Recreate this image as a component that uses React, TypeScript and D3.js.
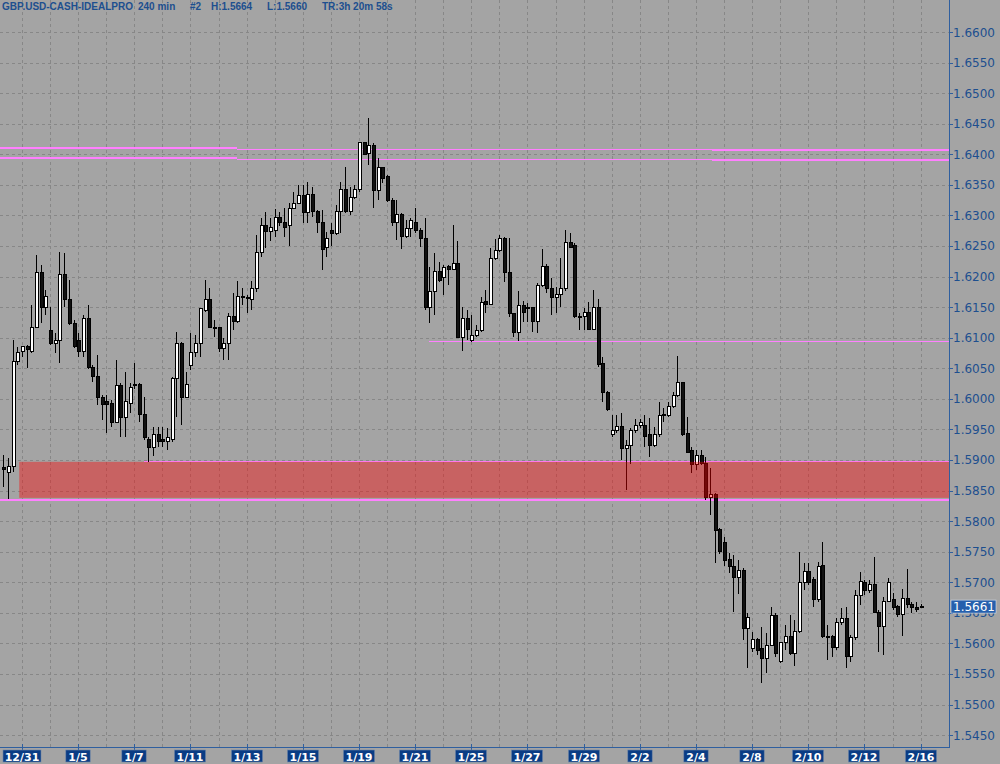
import * as d3 from 'd3';

// GBP.USD 240 min candles (oldest first)
const opens = [
  1.5887, 1.5879, 1.5889, 1.6061, 1.6077, 1.6085, 1.6078, 1.6117, 1.6207, 1.6149,
  1.6111, 1.6091, 1.6096, 1.6204, 1.6163, 1.6124, 1.6096, 1.6078, 1.6132, 1.6051,
  1.6037, 1.6003, 1.5995, 1.5993, 1.5962, 1.6021, 1.5969, 1.5993, 1.6021, 1.6024,
  1.5975, 1.5934, 1.5921, 1.5942, 1.5934, 1.5931, 1.5934, 1.6033, 1.6091, 1.6003,
  1.6054, 1.6075, 1.6090, 1.6145, 1.6162, 1.6117, 1.6116, 1.6083, 1.6091, 1.6135,
  1.6126, 1.6168, 1.6165, 1.6163, 1.6180, 1.6240, 1.6283, 1.6274, 1.6276, 1.6296,
  1.6288, 1.6283, 1.6312, 1.6320, 1.6333, 1.6304, 1.6335, 1.6306, 1.6289, 1.6247,
  1.6276, 1.6271, 1.6306, 1.6342, 1.6306, 1.6330, 1.6342, 1.6420, 1.6402, 1.6415,
  1.6340, 1.6378, 1.6363, 1.6325, 1.6289, 1.6301, 1.6266, 1.6278, 1.6288, 1.6276,
  1.6263, 1.6149, 1.6175, 1.6209, 1.6199, 1.6216, 1.6212, 1.6222, 1.6101, 1.6132,
  1.6095, 1.6104, 1.6111, 1.6160, 1.6155, 1.6230, 1.6243, 1.6263, 1.6206, 1.6139,
  1.6108, 1.6152, 1.6149, 1.6149, 1.6126, 1.6186, 1.6217, 1.6181, 1.6166, 1.6171,
  1.6180, 1.6256, 1.6250, 1.6135, 1.6134, 1.6142, 1.6114, 1.6149, 1.6057, 1.6011,
  1.5941, 1.5948, 1.5954, 1.5918, 1.5924, 1.5948, 1.5956, 1.5956, 1.5941, 1.5924,
  1.5941, 1.5975, 1.5972, 1.5988, 1.6005, 1.6026, 1.5943, 1.5915, 1.5892, 1.5907,
  1.5895, 1.5838, 1.5844, 1.5786, 1.5765, 1.5737, 1.5725, 1.5707, 1.5720, 1.5625,
  1.5591, 1.5606, 1.5591, 1.5576, 1.5597, 1.5645, 1.5571, 1.5601, 1.5611, 1.5584,
  1.5620, 1.5700, 1.5717, 1.5704, 1.5671, 1.5727, 1.5612, 1.5611, 1.5593, 1.5634,
  1.5640, 1.5578, 1.5609, 1.5679, 1.5699, 1.5686, 1.5697, 1.5651, 1.5627, 1.5669,
  1.5671, 1.5661, 1.5648, 1.5673, 1.5664, 1.5659, 1.5661,
];
const highs = [
  1.5908, 1.5903, 1.6096, 1.6085, 1.6087, 1.6088, 1.6154, 1.6235, 1.6219, 1.6178,
  1.6150, 1.6108, 1.6240, 1.6238, 1.6194, 1.6129, 1.6108, 1.6137, 1.6154, 1.6056,
  1.6072, 1.6006, 1.6006, 1.5998, 1.6064, 1.6026, 1.6044, 1.6026, 1.6059, 1.6026,
  1.6003, 1.5938, 1.5954, 1.5954, 1.5954, 1.5952, 1.6036, 1.6109, 1.6093, 1.6044,
  1.6108, 1.6104, 1.6149, 1.6194, 1.6181, 1.6129, 1.6117, 1.6100, 1.6140, 1.6173,
  1.6193, 1.6181, 1.6170, 1.6193, 1.6268, 1.6296, 1.6306, 1.6296, 1.6311, 1.6306,
  1.6312, 1.6320, 1.6338, 1.6350, 1.6350, 1.6355, 1.6346, 1.6309, 1.6309, 1.6273,
  1.6288, 1.6317, 1.6355, 1.6379, 1.6346, 1.6350, 1.6420, 1.6420, 1.6459, 1.6418,
  1.6394, 1.6379, 1.6366, 1.6328, 1.6325, 1.6304, 1.6293, 1.6296, 1.6312, 1.6279,
  1.6296, 1.6216, 1.6238, 1.6224, 1.6219, 1.6219, 1.6284, 1.6258, 1.6150, 1.6145,
  1.6137, 1.6121, 1.6167, 1.6178, 1.6247, 1.6261, 1.6268, 1.6265, 1.6263, 1.6140,
  1.6176, 1.6160, 1.6157, 1.6150, 1.6189, 1.6245, 1.6220, 1.6198, 1.6183, 1.6230,
  1.6276, 1.6271, 1.6255, 1.6140, 1.6149, 1.6158, 1.6178, 1.6163, 1.6069, 1.6012,
  1.5974, 1.5974, 1.5977, 1.5933, 1.5952, 1.5967, 1.5967, 1.5974, 1.5969, 1.5954,
  1.5995, 1.5985, 1.5995, 1.6011, 1.6070, 1.6028, 1.5970, 1.5921, 1.5916, 1.5916,
  1.5905, 1.5887, 1.5846, 1.5789, 1.5774, 1.5748, 1.5745, 1.5737, 1.5723, 1.5650,
  1.5619, 1.5609, 1.5627, 1.5617, 1.5660, 1.5650, 1.5602, 1.5630, 1.5647, 1.5638,
  1.5749, 1.5732, 1.5732, 1.5709, 1.5733, 1.5766, 1.5630, 1.5614, 1.5642, 1.5658,
  1.5660, 1.5614, 1.5687, 1.5717, 1.5704, 1.5704, 1.5741, 1.5655, 1.5676, 1.5707,
  1.5682, 1.5663, 1.5689, 1.5722, 1.5668, 1.5668, 1.5664,
];
const lows = [
  1.5856, 1.5836, 1.5880, 1.6056, 1.6069, 1.6051, 1.6075, 1.6116, 1.6124, 1.6137,
  1.6088, 1.6075, 1.6059, 1.6150, 1.6121, 1.6083, 1.6069, 1.6069, 1.6049, 1.6028,
  1.5990, 1.5965, 1.5944, 1.5954, 1.5960, 1.5938, 1.5938, 1.5977, 1.6016, 1.5962,
  1.5933, 1.5897, 1.5906, 1.5921, 1.5921, 1.5916, 1.5929, 1.5970, 1.5957, 1.6001,
  1.6047, 1.6069, 1.6069, 1.6142, 1.6116, 1.6101, 1.6077, 1.6064, 1.6064, 1.6113,
  1.6124, 1.6154, 1.6140, 1.6145, 1.6175, 1.6232, 1.6247, 1.6258, 1.6265, 1.6283,
  1.6265, 1.6250, 1.6311, 1.6320, 1.6288, 1.6288, 1.6297, 1.6271, 1.6211, 1.6232,
  1.6250, 1.6268, 1.6271, 1.6304, 1.6301, 1.6327, 1.6338, 1.6399, 1.6383, 1.6312,
  1.6325, 1.6353, 1.6322, 1.6283, 1.6260, 1.6245, 1.6263, 1.6265, 1.6271, 1.6248,
  1.6145, 1.6124, 1.6137, 1.6191, 1.6170, 1.6186, 1.6212, 1.6100, 1.6078, 1.6096,
  1.6093, 1.6101, 1.6109, 1.6140, 1.6154, 1.6227, 1.6240, 1.6191, 1.6134, 1.6101,
  1.6095, 1.6126, 1.6126, 1.6109, 1.6108, 1.6183, 1.6173, 1.6137, 1.6140, 1.6150,
  1.6176, 1.6248, 1.6132, 1.6113, 1.6113, 1.6113, 1.6113, 1.6052, 1.5995, 1.5980,
  1.5938, 1.5944, 1.5900, 1.5851, 1.5893, 1.5944, 1.5952, 1.5921, 1.5905, 1.5921,
  1.5938, 1.5962, 1.5970, 1.5985, 1.6003, 1.5939, 1.5911, 1.5879, 1.5884, 1.5892,
  1.5835, 1.5810, 1.5731, 1.5746, 1.5727, 1.5715, 1.5651, 1.5681, 1.5606, 1.5560,
  1.5586, 1.5581, 1.5535, 1.5552, 1.5596, 1.5578, 1.5568, 1.5589, 1.5581, 1.5563,
  1.5617, 1.5687, 1.5695, 1.5659, 1.5668, 1.5609, 1.5573, 1.5578, 1.5589, 1.5630,
  1.5560, 1.5570, 1.5606, 1.5663, 1.5679, 1.5683, 1.5650, 1.5586, 1.5581, 1.5668,
  1.5655, 1.5643, 1.5612, 1.5658, 1.5650, 1.5651, 1.5660,
];
const closes = [
  1.5884, 1.5889, 1.6061, 1.6075, 1.6085, 1.6080, 1.6117, 1.6207, 1.6149, 1.6167,
  1.6091, 1.6096, 1.6204, 1.6162, 1.6124, 1.6085, 1.6078, 1.6132, 1.6051, 1.6037,
  1.6003, 1.5990, 1.5991, 1.5962, 1.6021, 1.5969, 1.5995, 1.6018, 1.6024, 1.5974,
  1.5936, 1.5921, 1.5942, 1.5931, 1.5931, 1.5936, 1.6034, 1.6091, 1.6003, 1.6023,
  1.6075, 1.6091, 1.6147, 1.6162, 1.6117, 1.6116, 1.6083, 1.6091, 1.6135, 1.6126,
  1.6168, 1.6165, 1.6164, 1.6180, 1.6240, 1.6283, 1.6274, 1.6281, 1.6296, 1.6288,
  1.6281, 1.6312, 1.6320, 1.6333, 1.6304, 1.6335, 1.6306, 1.6289, 1.6245, 1.6263,
  1.6271, 1.6306, 1.6342, 1.6306, 1.6330, 1.6342, 1.6420, 1.6400, 1.6415, 1.6340,
  1.6378, 1.6360, 1.6324, 1.6289, 1.6301, 1.6266, 1.6278, 1.6291, 1.6276, 1.6263,
  1.6149, 1.6175, 1.6209, 1.6194, 1.6214, 1.6212, 1.6222, 1.6101, 1.6132, 1.6113,
  1.6104, 1.6111, 1.6158, 1.6155, 1.6230, 1.6243, 1.6263, 1.6206, 1.6139, 1.6108,
  1.6152, 1.6142, 1.6148, 1.6126, 1.6186, 1.6217, 1.6181, 1.6166, 1.6171, 1.6180,
  1.6256, 1.6248, 1.6134, 1.6134, 1.6142, 1.6114, 1.6149, 1.6056, 1.6010, 1.5983,
  1.5948, 1.5954, 1.5918, 1.5924, 1.5948, 1.5956, 1.5961, 1.5938, 1.5924, 1.5941,
  1.5972, 1.5972, 1.5988, 1.6005, 1.6026, 1.5941, 1.5913, 1.5892, 1.5907, 1.5895,
  1.5838, 1.5844, 1.5784, 1.5751, 1.5735, 1.5725, 1.5707, 1.5720, 1.5625, 1.5642,
  1.5606, 1.5589, 1.5576, 1.5597, 1.5645, 1.5583, 1.5601, 1.5611, 1.5584, 1.5620,
  1.5700, 1.5717, 1.5700, 1.5671, 1.5725, 1.5611, 1.5611, 1.5594, 1.5634, 1.5640,
  1.5578, 1.5609, 1.5679, 1.5702, 1.5686, 1.5696, 1.5651, 1.5627, 1.5669, 1.5700,
  1.5659, 1.5648, 1.5673, 1.5664, 1.5658, 1.5656, 1.5661,
];

// date labels sit every 12 bars, starting at bar 4
const dateLabels = ['12/31', '1/5', '1/7', '1/11', '1/13', '1/15', '1/19', '1/21', '1/25', '1/27', '1/29', '2/2', '2/4', '2/8', '2/10', '2/12', '2/16'];
const firstLabelBar = 4;
const barsPerLabel = 12;

const priceTicks = d3.range(1.545, 1.66001, 0.005);

// drawn objects: horizontal levels (price, from bar, to bar, width)
const levels = [
  { price: 1.6410, from: -1, to: 50, w: 2 },
  { price: 1.6394, from: -1, to: 50, w: 2 },
  { price: 1.6409, from: 50, to: 151.5, w: 1 },
  { price: 1.6392, from: 50, to: 151.5, w: 1 },
  { price: 1.6407, from: 151.5, to: 203, w: 2 },
  { price: 1.6391, from: 151.5, to: 203, w: 2 },
  { price: 1.6094, from: 91, to: 203, w: 1 },
  { price: 1.5899, from: 30, to: 203, w: 1 },
  { price: 1.5835, from: -1, to: 203, w: 2 },
];
const zone = { top: 1.5897, bottom: 1.5838, from: 3.4, to: 203 };

const lastPrice = 1.5661;
const header = [
  { t: 'GBP.USD-CASH-IDEALPRO', x: 2 },
  { t: '240 min', x: 138 },
  { t: '#2', x: 190 },
  { t: 'H:1.5664', x: 211 },
  { t: 'L:1.5660', x: 267 },
  { t: 'TR:3h 20m 58s', x: 322 },
];

const W = 1000;
const H = 764;
const plotRight = 949;
const plotBottom = 747;
const blue = '#1d4f8f';

export default function App() {
  const n = opens.length;
  const x = d3.scaleLinear().domain([0, n - 1]).range([3.3, 3.3 + (n - 1) * 4.68]);
  const y = d3.scaleLinear().domain([1.545, 1.66]).range([735.1, 32]);
  const px = (i: number) => Math.min(plotRight, Math.max(0, x(i)));

  const gridBars = d3.range(firstLabelBar, n + 6, barsPerLabel / 2);
  const labelBars = dateLabels.map((_, k) => firstLabelBar + k * barsPerLabel);

  return (
    <svg
      width={W}
      height={H}
      style={{ position: 'absolute', left: 0, top: 0, display: 'block' }}
      fontFamily="DejaVu Sans, sans-serif"
    >
      <rect x={0} y={0} width={W} height={H} fill="#a4a4a4" />

      {/* grid */}
      <g stroke="#878787" strokeDasharray="3 3" shapeRendering="crispEdges">
        {priceTicks.map((p) => (
          <line key={p} x1={0} x2={plotRight} y1={Math.round(y(p)) + 0.5} y2={Math.round(y(p)) + 0.5} />
        ))}
        {gridBars.filter((b) => x(b) < plotRight).map((b) => (
          <line key={b} x1={Math.round(x(b)) + 0.5} x2={Math.round(x(b)) + 0.5} y1={0} y2={plotBottom} />
        ))}
      </g>

      {/* level lines */}
      <g stroke="#ff80ff" shapeRendering="crispEdges">
        {levels.map((l, k) => (
          <line key={k} x1={px(l.from)} x2={px(l.to)} y1={Math.round(y(l.price))} y2={Math.round(y(l.price))} strokeWidth={l.w} />
        ))}
      </g>

      {/* candles */}
      <g shapeRendering="crispEdges">
        {opens.map((o, i) => {
          const c = closes[i];
          const cx = Math.round(x(i)) + 0.5;
          const up = c >= o;
          const top = y(Math.max(o, c));
          const bot = y(Math.min(o, c));
          return (
            <g key={i}>
              <line x1={cx} x2={cx} y1={y(highs[i])} y2={y(lows[i])} stroke="#000" />
              <rect
                x={cx - 1.5}
                y={top}
                width={3}
                height={Math.max(1, bot - top)}
                fill={up ? '#ffffff' : '#111111'}
                stroke="#000"
              />
            </g>
          );
        })}
      </g>

      {/* zone */}
      <rect
        x={px(zone.from)}
        y={y(zone.top)}
        width={px(zone.to) - px(zone.from)}
        height={y(zone.bottom) - y(zone.top)}
        fill="#ff0000"
        fillOpacity={0.4}
      />

      {/* axes */}
      <g stroke="#2f5f9f" shapeRendering="crispEdges">
        <line x1={plotRight + 0.5} x2={plotRight + 0.5} y1={0} y2={plotBottom + 1} />
        <line x1={0} x2={plotRight} y1={plotBottom + 0.5} y2={plotBottom + 0.5} />
        {priceTicks.map((p) => (
          <line key={p} x1={plotRight} x2={plotRight + 4} y1={Math.round(y(p)) + 0.5} y2={Math.round(y(p)) + 0.5} />
        ))}
        {labelBars.map((b) => (
          <line key={b} x1={Math.round(x(b)) + 0.5} x2={Math.round(x(b)) + 0.5} y1={plotBottom - 3} y2={plotBottom + 3} />
        ))}
      </g>
      <g fill={blue} fontSize={12}>
        {priceTicks.map((p) => (
          <text key={p} x={plotRight + 4} y={y(p) + 4.5}>
            {p.toFixed(4)}
          </text>
        ))}
      </g>

      {/* date boxes */}
      <g fontSize={11} fontWeight="bold" textAnchor="middle">
        {dateLabels.map((d, k) => {
          const cx = Math.round(x(labelBars[k]));
          const w = d.length * 6.8 + 4;
          return (
            <g key={d}>
              <rect x={cx - w / 2} y={750} width={w} height={12} fill="#0a3c84" stroke="#6f86a8" strokeWidth={0.6} />
              <text x={cx} y={760.5} fill="#ffffff">
                {d}
              </text>
            </g>
          );
        })}
      </g>

      {/* last price tag */}
      <rect x={951} y={y(lastPrice) - 6} width={45} height={13} fill="#2660ad" stroke="#d8e2f0" strokeWidth={0.6} />
      <text x={953} y={y(lastPrice) + 4.5} fill="#ffffff" fontSize={12}>
        {lastPrice.toFixed(4)}
      </text>

      {/* header */}
      <g fill={blue} fontSize={10} fontWeight="bold" fontFamily="Liberation Sans, Arial, sans-serif">
        {header.map((h) => (
          <text key={h.t} x={h.x} y={10}>
            {h.t}
          </text>
        ))}
      </g>
    </svg>
  );
}
